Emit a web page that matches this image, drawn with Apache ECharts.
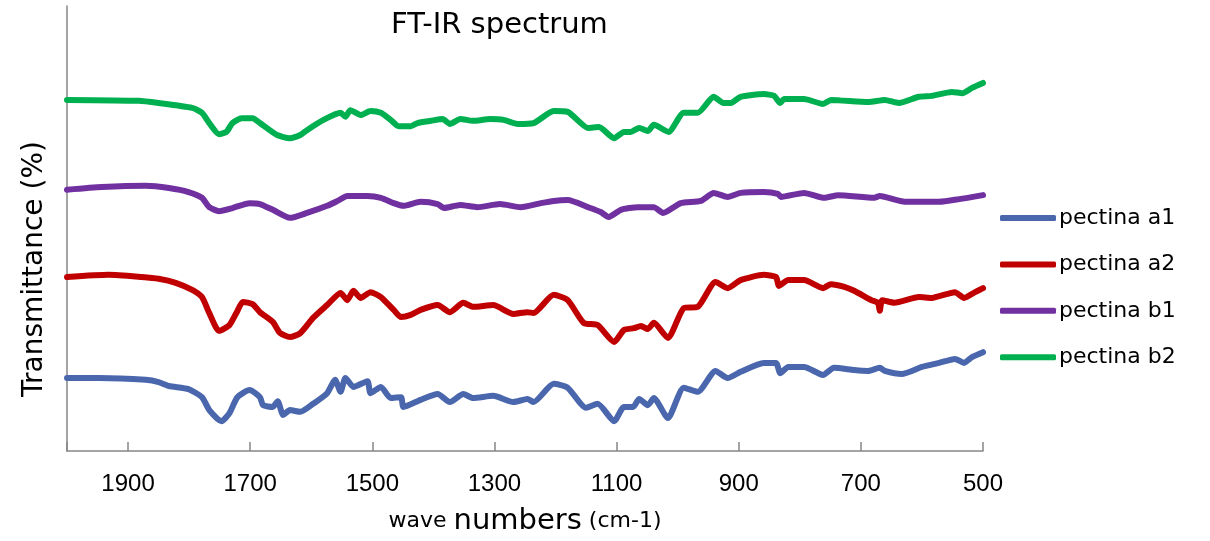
<!DOCTYPE html>
<html>
<head>
<meta charset="utf-8">
<script src="https://cdn.jsdelivr.net/npm/echarts@6/dist/echarts.min.js"></script>
<style>
  html, body { margin: 0; padding: 0; background: #fff; }
  #chart { width: 1210px; height: 541px; }
</style>
</head>
<body>
<div id="chart"></div>
<script>
// wave numbers (cm-1) and transmittance, one pair of arrays per sample
const a1Wave = [2000,1948,1871,1850,1833,1801,1779,1767,1747,1734,1721,1701,1684,1679,1663,1655,1646,1635,1618,1597,1574,1561,1552,1544,1531,1508,1503,1486,1470,1453,1449,1421,1393,1373,1351,1335,1302,1269,1246,1236,1203,1180,1150,1131,1104,1088,1073,1063,1049,1039,1016,990,967,938,918,897,859,839,832,819,793,762,744,711,688,669,661,633,600,572,546,531,518,500];
const a1Trans = [16.4,16.4,16.0,15.5,14.6,13.9,12.1,9.2,6.7,8.5,12.1,13.7,12.1,10.3,9.9,11.2,8.1,9.2,8.8,10.6,13.0,16.0,13.3,16.4,14.4,15.7,13.0,14.4,11.9,12.1,9.9,11.5,12.8,11.0,12.8,11.9,12.4,11.0,11.7,11.0,15.1,14.2,9.7,10.6,6.7,9.9,9.9,11.7,10.3,11.9,7.4,14.2,13.3,18.0,16.4,17.8,19.8,19.8,17.5,18.9,18.9,17.1,18.7,18.2,18.0,18.7,18.0,17.3,18.9,19.8,20.7,19.8,21.1,22.2];

const a2Wave = [2000,1932,1878,1850,1822,1795,1779,1767,1751,1734,1722,1712,1696,1684,1663,1651,1635,1618,1597,1574,1552,1541,1531,1519,1503,1486,1465,1453,1437,1421,1393,1373,1351,1335,1302,1269,1246,1236,1203,1180,1154,1131,1104,1088,1072,1060,1049,1039,1016,990,967,938,918,897,859,839,834,819,793,762,749,727,711,683,672,669,665,645,605,584,546,531,513,500];
const a2Trans = [39.1,39.6,39.1,38.7,37.8,36.2,34.6,31.0,27.0,28.3,31.2,33.5,33.0,31.2,29.0,26.5,25.6,26.5,29.9,32.8,35.5,33.9,36.0,34.4,35.7,34.6,31.7,30.1,30.6,31.7,32.8,31.2,33.3,32.4,32.8,30.8,31.2,31.0,35.1,33.9,28.8,28.3,24.5,27.2,27.6,28.1,27.4,28.8,25.4,32.1,32.4,38.0,36.6,38.4,39.6,39.1,37.1,38.4,38.4,36.6,37.5,36.9,36.0,33.9,33.3,31.5,33.9,33.3,34.6,34.4,35.7,34.4,35.7,36.6];

const b1Wave = [2000,1943,1871,1833,1801,1779,1767,1751,1729,1701,1684,1663,1635,1607,1574,1557,1541,1508,1486,1465,1449,1421,1393,1383,1356,1328,1291,1257,1224,1203,1180,1147,1126,1113,1093,1065,1039,1024,995,962,941,918,897,859,836,831,793,760,737,678,669,628,572,539,500];
const b1Trans = [58.7,59.3,59.6,59.1,58.2,56.9,54.8,53.9,54.6,55.7,55.5,54.2,52.4,53.5,55.1,56.2,57.3,57.3,56.9,55.7,55.1,56.0,55.5,54.6,55.3,54.8,55.5,54.8,55.7,56.2,56.4,54.8,53.7,52.6,54.2,54.8,54.8,53.5,55.7,56.2,58.0,57.1,58.0,58.2,57.8,57.1,58.0,56.9,57.5,56.9,57.3,56.0,56.0,56.6,57.5];

const b2Wave = [2000,1883,1850,1795,1779,1767,1751,1739,1729,1714,1696,1684,1656,1635,1618,1607,1580,1552,1544,1536,1519,1503,1486,1470,1457,1437,1426,1404,1385,1373,1356,1335,1307,1285,1262,1236,1203,1180,1147,1129,1104,1088,1077,1063,1049,1039,1015,990,967,941,925,913,897,859,842,832,826,793,762,749,688,661,638,605,584,551,534,518,500];
const b2Trans = [78.9,78.7,78.2,77.1,76.0,73.7,71.2,71.7,73.7,74.8,74.8,73.7,71.0,70.3,71.0,72.1,74.4,76.0,75.1,76.6,75.5,76.4,76.0,74.4,73.0,73.0,73.7,74.2,74.6,73.5,74.6,74.2,74.6,74.4,73.5,73.7,76.4,76.2,72.6,72.8,70.3,71.7,71.7,72.6,71.9,73.3,71.7,76.0,76.0,79.6,78.2,78.2,79.6,80.2,79.8,78.2,79.1,79.1,78.0,78.9,78.4,78.9,78.2,79.6,79.8,80.7,80.4,81.6,82.7];

const seriesNames = ['pectina a1', 'pectina a2', 'pectina b1', 'pectina b2'];
const seriesColors = ['#4A67AD', '#C00000', '#7030A0', '#00B050'];
const seriesData = [[a1Wave, a1Trans], [a2Wave, a2Trans], [b1Wave, b1Trans], [b2Wave, b2Trans]];

const FONT = 'DejaVu Sans';
const chart = echarts.init(document.getElementById('chart'));

const option = {
  animation: false,
  color: seriesColors,
  title: {
    text: 'FT-IR spectrum',
    left: 386,
    top: 6,
    textStyle: { fontFamily: FONT, fontSize: 29, fontWeight: 'normal', color: '#000' }
  },
  legend: {
    orient: 'vertical',
    left: 995,
    top: 202,
    itemWidth: 56,
    itemHeight: 6,
    itemGap: 24.4,
    icon: 'roundRect',
    data: seriesNames,
    textStyle: { fontFamily: FONT, fontSize: 22, color: '#000', padding: [0, 0, 0, -2] }
  },
  grid: { left: 67, right: 227, top: 6, bottom: 90 },
  xAxis: {
    type: 'value',
    inverse: true,
    min: 500,
    max: 2000,
    interval: 200,
    name: '{s|wave }{b|numbers}{t| (cm-1)}',
    nameLocation: 'middle',
    nameGap: 56,
    nameTextStyle: {
      rich: {
        s: { fontFamily: FONT, fontSize: 22, color: '#000' },
        b: { fontFamily: FONT, fontSize: 29, color: '#000' },
        t: { fontFamily: FONT, fontSize: 22, color: '#000' }
      }
    },
    axisLine: { lineStyle: { color: '#868686', width: 1.5 } },
    axisTick: { inside: true, length: 9, lineStyle: { color: '#868686', width: 1.5 } },
    axisLabel: {
      margin: 21,
      fontFamily: 'Liberation Sans',
      fontSize: 24,
      color: '#000',
      formatter: v => (v === 2000 ? '' : String(v))
    },
    splitLine: { show: false }
  },
  yAxis: {
    type: 'value',
    min: 0,
    max: 100,
    axisLine: { show: true, lineStyle: { color: '#868686', width: 1.5 } },
    axisTick: { show: false },
    axisLabel: { show: false },
    splitLine: { show: false }
  },
  graphic: [{
    type: 'text',
    x: 35,
    y: 269,
    rotation: Math.PI / 2,
    style: {
      text: 'Transmittance (%)',
      fontFamily: FONT,
      fontSize: 28,
      fill: '#000',
      align: 'center',
      verticalAlign: 'middle'
    }
  }],
  series: seriesNames.map((name, i) => ({
    name: name,
    type: 'line',
    symbol: 'none',
    smooth: 0.2,
    lineStyle: { width: 6, color: seriesColors[i], cap: 'round', join: 'round' },
    data: seriesData[i][0].map((w, k) => [w, seriesData[i][1][k]])
  }))
};

chart.setOption(option);
</script>
</body>
</html>
